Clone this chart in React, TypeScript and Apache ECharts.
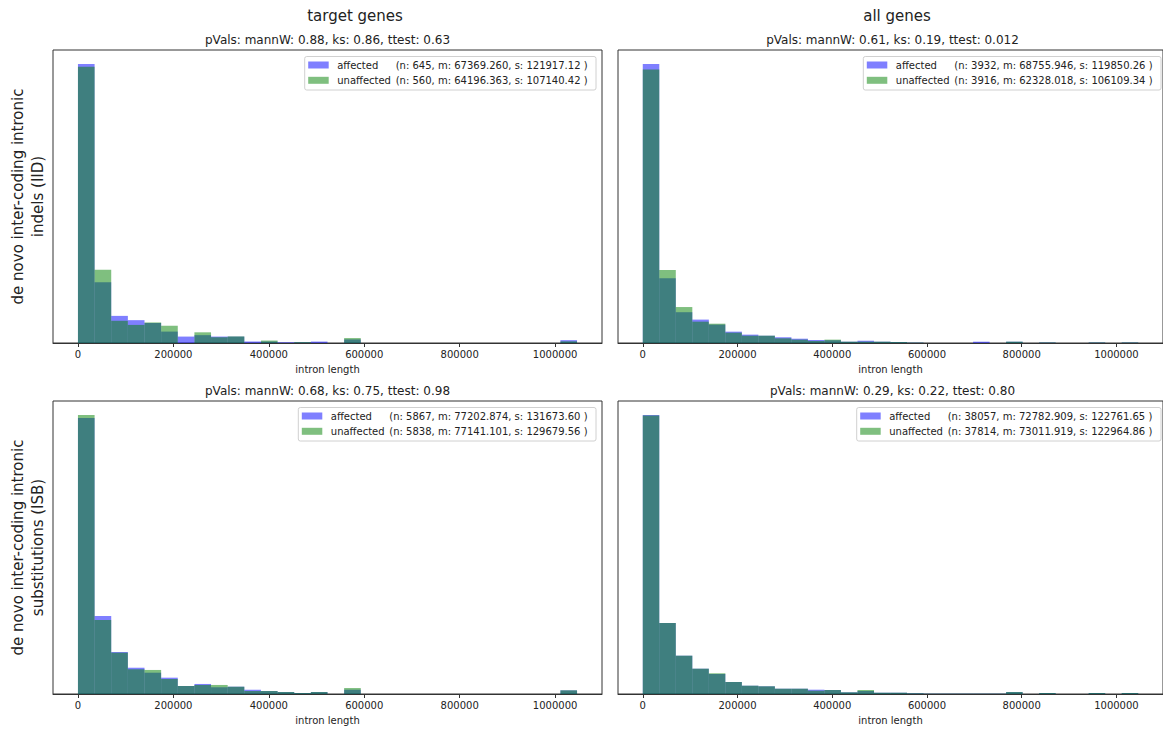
import React, { useEffect, useRef } from "react";
import * as echarts from "echarts";

// ---------- data ----------
const BIN_WIDTH = 34867; // intron length per histogram bin
const N_BINS = 30;
const X_TICKS = [0, 200000, 400000, 600000, 800000, 1000000];

const COL_TITLES = ["target genes", "all genes"];
const ROW_LABELS = [
  "de novo inter-coding intronic\nindels (IID)",
  "de novo inter-coding intronic\nsubstitutions (ISB)",
];
const SERIES_NAMES = ["affected", "unaffected"];
const X_NAME = "intron length";

// counts per bin (30 bins)
const tlAffected = [391, 85, 38, 32, 28, 16, 9, 11, 9, 9, 2, 2, 1, 1, 2, 0, 5, 0, 0, 0, 0, 0, 0, 0, 0, 0, 0, 0, 0, 4];
const tlUnaffected = [336, 89, 27, 22, 25, 21, 0, 13, 7, 8, 0, 3, 0, 1, 0, 0, 6, 0, 0, 0, 0, 0, 0, 0, 0, 0, 0, 0, 0, 2];
const trAffected = [2337, 543, 258, 196, 154, 95, 70, 61, 48, 36, 25, 23, 11, 19, 11, 8, 3, 0, 0, 0, 11, 0, 11, 0, 4, 0, 0, 4, 0, 4];
const trUnaffected = [2281, 609, 300, 178, 161, 86, 61, 61, 39, 28, 17, 28, 11, 11, 11, 8, 3, 0, 0, 0, 0, 0, 11, 0, 4, 0, 0, 4, 0, 4];
const blAffected = [3161, 894, 481, 301, 244, 187, 92, 115, 77, 84, 49, 34, 23, 11, 23, 0, 49, 0, 0, 0, 0, 0, 0, 0, 0, 0, 0, 0, 0, 42];
const blUnaffected = [3181, 844, 471, 282, 274, 171, 91, 103, 103, 83, 34, 34, 23, 11, 23, 0, 68, 0, 0, 0, 0, 0, 0, 0, 0, 0, 0, 0, 0, 42];
const brAffected = [21448, 5459, 2945, 1945, 1538, 923, 638, 592, 407, 407, 331, 308, 131, 231, 100, 100, 54, 23, 23, 23, 23, 23, 154, 0, 77, 0, 0, 77, 0, 77];
const brUnaffected = [21260, 5424, 2926, 1933, 1581, 917, 634, 588, 405, 405, 252, 306, 130, 306, 99, 99, 53, 23, 23, 23, 23, 23, 153, 0, 76, 0, 0, 76, 0, 76];

const N_AFFECTED = [645, 3932, 5867, 38057];
const N_UNAFFECTED = [560, 3916, 5838, 37814];
const STATS_AFFECTED = [
  "(n: 645, m: 67369.260, s: 121917.12 )",
  "(n: 3932, m: 68755.946, s: 119850.26 )",
  "(n: 5867, m: 77202.874, s: 131673.60 )",
  "(n: 38057, m: 72782.909, s: 122761.65 )",
];
const STATS_UNAFFECTED = [
  "(n: 560, m: 64196.363, s: 107140.42 )",
  "(n: 3916, m: 62328.018, s: 106109.34 )",
  "(n: 5838, m: 77141.101, s: 129679.56 )",
  "(n: 37814, m: 73011.919, s: 122964.86 )",
];
const PVALS = [
  "pVals: mannW: 0.88, ks: 0.86, ttest: 0.63",
  "pVals: mannW: 0.61, ks: 0.19, ttest: 0.012",
  "pVals: mannW: 0.68, ks: 0.75, ttest: 0.98",
  "pVals: mannW: 0.29, ks: 0.22, ttest: 0.80",
];
const AFFECTED = [tlAffected, trAffected, blAffected, brAffected];
const UNAFFECTED = [tlUnaffected, trUnaffected, blUnaffected, brUnaffected];

// ---------- layout ----------
const FONT = "DejaVu Sans";
const GRIDS = [
  { left: 53, top: 50, width: 549, height: 293 },
  { left: 618, top: 50, width: 549, height: 293 },
  { left: 53, top: 401, width: 549, height: 293 },
  { left: 618, top: 401, width: 549, height: 293 },
];
const LEGEND_BOX = [
  { left: 304.7, right: 596 },
  { left: 863.3, right: 1161 },
  { left: 298.3, right: 596 },
  { left: 856.7, right: 1161 },
];
const COL_TITLE_X = [355, 897];
const COLORS = ["rgba(0,0,255,0.5)", "rgba(0,128,0,0.5)"];

function buildOption() {
  const xRangeMax = N_BINS * BIN_WIDTH;
  const xMin = -0.05 * xRangeMax;
  const xMax = 1.05 * xRangeMax;

  const grid: any[] = [];
  const xAxis: any[] = [];
  const yAxis: any[] = [];
  const series: any[] = [];
  const graphic: any[] = [];

  for (let p = 0; p < 4; p++) {
    const g = GRIDS[p];
    grid.push({
      left: g.left,
      top: g.top,
      width: g.width,
      height: g.height,
      show: true,
      borderColor: "#333",
      borderWidth: 1,
      backgroundColor: "transparent",
      containLabel: false,
    });
    const shares = [
      AFFECTED[p].map((c) => c / N_AFFECTED[p]),
      UNAFFECTED[p].map((c) => c / N_UNAFFECTED[p]),
    ];
    const maxShare = Math.max(...shares[0], ...shares[1]);
    xAxis.push({
      type: "value",
      gridIndex: p,
      min: xMin,
      max: xMax,
      z: 10,
      name: X_NAME,
      nameLocation: "middle",
      nameGap: 21,
      nameTextStyle: { fontFamily: FONT, fontSize: 10, color: "#222" },
      axisLine: { show: true, onZero: false, lineStyle: { color: "#333", width: 1 } },
      axisTick: { show: true, customValues: X_TICKS, length: 4, lineStyle: { color: "#333" } },
      axisLabel: {
        show: true,
        customValues: X_TICKS,
        formatter: (v: number) => String(Math.round(v)),
        fontFamily: FONT,
        fontSize: 10,
        color: "#222",
        margin: 6,
      },
      splitLine: { show: false },
    });
    yAxis.push({
      type: "value",
      gridIndex: p,
      min: 0,
      max: 1.05 * maxShare,
      axisLine: { show: false },
      axisTick: { show: false },
      axisLabel: { show: false },
      splitLine: { show: false },
    });
    for (let s = 0; s < 2; s++) {
      const data = shares[s].map((v, i) => [i * BIN_WIDTH, (i + 1) * BIN_WIDTH, v]);
      const fill = COLORS[s];
      series.push({
        type: "custom",
        name: SERIES_NAMES[s],
        xAxisIndex: p,
        yAxisIndex: p,
        z: 2 + s,
        encode: { x: [0, 1], y: 2 },
        data,
        renderItem: (params: any, api: any) => {
          const x0 = api.value(0);
          const x1 = api.value(1);
          const y = api.value(2);
          if (!(y > 0)) return null;
          const pTop = api.coord([x0, y]);
          const pBot = api.coord([x1, 0]);
          return {
            type: "rect",
            shape: { x: pTop[0], y: pTop[1], width: pBot[0] - pTop[0], height: pBot[1] - pTop[1] },
            style: { fill },
          };
        },
      });
    }

    // subplot title (p-values)
    graphic.push({
      type: "text",
      x: g.left + g.width / 2,
      y: g.top - 10,
      style: {
        text: PVALS[p],
        fontFamily: FONT,
        fontSize: 12,
        fill: "#222",
        align: "center",
        verticalAlign: "middle",
      },
    });

    // legend
    const lb = LEGEND_BOX[p];
    const boxTop = g.top + 6.5;
    graphic.push({
      type: "rect",
      z: 20,
      shape: { x: lb.left, y: boxTop, width: lb.right - lb.left, height: 33.5, r: 2 },
      style: { fill: "rgba(255,255,255,0.8)", stroke: "#d0d0d0", lineWidth: 1 },
    });
    const rowY = [g.top + 15, g.top + 30.3];
    const stats = [STATS_AFFECTED[p], STATS_UNAFFECTED[p]];
    for (let s = 0; s < 2; s++) {
      graphic.push({
        type: "rect",
        z: 21,
        shape: { x: lb.left + 3.5, y: rowY[s] - 3.5, width: 20.5, height: 7 },
        style: { fill: COLORS[s] },
      });
      graphic.push({
        type: "text",
        z: 21,
        x: lb.left + 32.5,
        y: rowY[s],
        style: {
          text: SERIES_NAMES[s],
          fontFamily: FONT,
          fontSize: 10,
          fill: "#222",
          align: "left",
          verticalAlign: "middle",
        },
      });
      graphic.push({
        type: "text",
        z: 21,
        x: lb.left + 91,
        y: rowY[s],
        style: {
          text: stats[s],
          fontFamily: FONT,
          fontSize: 10,
          fill: "#222",
          align: "left",
          verticalAlign: "middle",
        },
      });
    }
  }

  // column titles
  for (let c = 0; c < 2; c++) {
    graphic.push({
      type: "text",
      x: COL_TITLE_X[c],
      y: 16,
      style: {
        text: COL_TITLES[c],
        fontFamily: FONT,
        fontSize: 15,
        fill: "#222",
        align: "center",
        verticalAlign: "middle",
      },
    });
  }
  // row labels
  for (let r = 0; r < 2; r++) {
    const g = GRIDS[r * 2];
    graphic.push({
      type: "text",
      x: 28,
      y: g.top + g.height / 2,
      rotation: Math.PI / 2,
      style: {
        text: ROW_LABELS[r],
        fontFamily: FONT,
        fontSize: 15,
        lineHeight: 20,
        fill: "#222",
        align: "center",
        verticalAlign: "middle",
      },
    });
  }

  return {
    animation: false,
    backgroundColor: "#ffffff",
    grid,
    xAxis,
    yAxis,
    series,
    graphic,
  };
}

export default function App() {
  const ref = useRef<HTMLDivElement | null>(null);
  useEffect(() => {
    if (!ref.current) return;
    const chart = echarts.init(ref.current, undefined, { renderer: "svg" });
    chart.setOption(buildOption() as any);
    return () => {
      chart.dispose();
    };
  }, []);
  return (
    <div
      ref={ref}
      style={{ position: "absolute", left: 0, top: 0, width: 1163, height: 729, overflow: "hidden" }}
    />
  );
}
